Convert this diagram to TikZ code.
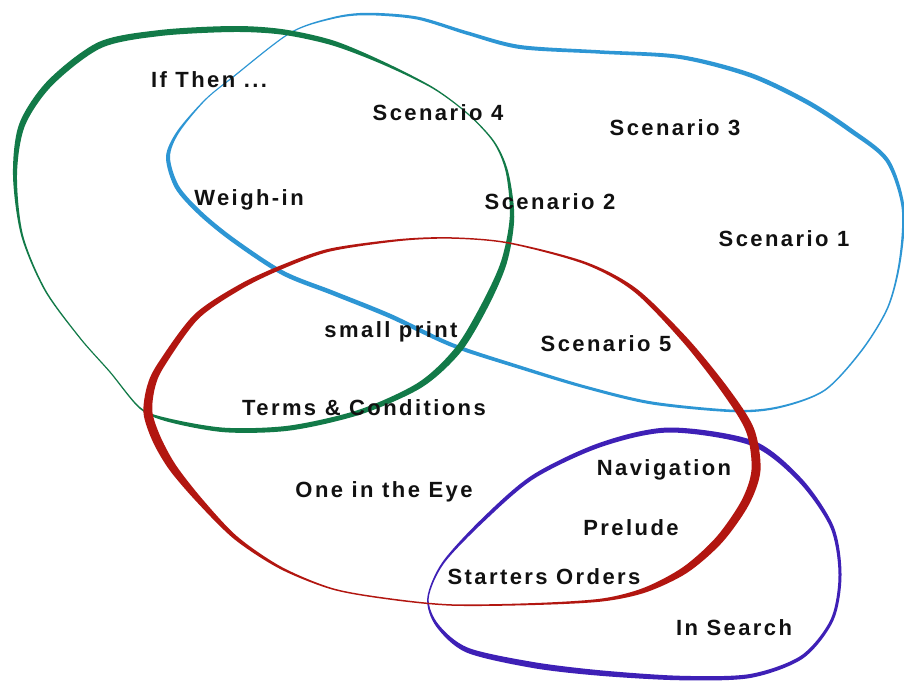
\documentclass[tikz,border=0pt]{standalone}
\usepackage{fontspec}
\newfontfamily\lblfont[LetterSpace=11]{Liberation Sans}
\usetikzlibrary{calc}
\definecolor{grn}{RGB}{18,122,72}
\definecolor{sky}{RGB}{45,150,212}
\definecolor{crimson}{RGB}{178,22,16}
\definecolor{indigo}{RGB}{62,32,182}
\definecolor{ink}{RGB}{17,17,17}
\tikzset{
  lbl/.style={font=\lblfont\bfseries\fontsize{22}{25}\selectfont, text=ink, inner sep=0pt}
}
% closed band of varying width: name, colour, x/y/width list
\newcommand\loopband[3]{%
  \foreach \x/\y/\w [count=\i] in {#3} {\coordinate (#1\i) at (\x,\y); \xdef\nn{\i}}
  \gdef\pa{}\gdef\pb{}
  \foreach \x/\y/\w [count=\i] in {#3} {
    \pgfmathtruncatemacro\ip{mod(\i-2+\nn,\nn)+1}
    \pgfmathtruncatemacro\inx{mod(\i,\nn)+1}
    \coordinate (t) at ($(#1\ip)!\w*0.5pt!90:(#1\inx)$);
    \coordinate (#1a\i) at ($(#1\i)+(t)-(#1\ip)$);
    \coordinate (#1b\i) at ($(#1\i)-(t)+(#1\ip)$);
    \xdef\pa{\pa(#1a\i)}\xdef\pb{\pb(#1b\i)}
  }
  \edef\tmp{\noexpand\fill[#2, even odd rule] plot[smooth cycle] coordinates {\pa}
    plot[smooth cycle] coordinates {\pb};}\tmp
}
\begin{document}
\begin{tikzpicture}[x=1pt, y=-1pt]
  \useasboundingbox[fill=white] (0,0) rectangle (904,681);
  % Blue set
  \loopband{b}{sky}{168/157/4, 178/132/2.5, 205/100/1.2, 233/77/1.2, 290/33/1.2,
    333/18/1.8, 367/14/2.5, 417/18/3, 467/33/3.5, 520/47/4, 600/52/3.5,
    680/57/4, 750/75/4.5, 807/102/4.5, 850/130/4.5, 887/160/4, 903/207/3,
    900/260/2, 888/307/1.5, 862/350/1.5, 825/390/1.5, 780/407/2, 735/411/2.5,
    652/403/3, 585/387/3, 519/367/3.5, 452/345/4, 390/316/4.5, 333/293/4.5,
    283/273/4.5, 233/240/4.5, 200/213/4.5, 177/187/4.5}
  % Green set
  \loopband{g}{grn}{233/29/6, 283/32/5.5, 333/43/5, 383/63/3, 433/88/1.5,
    468/114/1.2, 494/142/1.5, 507/172/2.5, 512/217/4.5, 504/262/6, 485/305/7,
    458/350/7, 420/385/6, 360/412/5, 290/428/5, 225/430/4.5, 168/420/3.5,
    140/408/1.5, 110/372/1.2, 80/338/1.2, 45/290/1.5, 22/235/2, 15/175/4,
    22/125/6, 50/83/6.5, 100/45/6.5, 160/33/6}
  % Purple set
  \loopband{p}{indigo}{428/598/1.5, 443/563/2, 483/520/3.5, 533/477/4, 600/445/4.5,
    669/430/5, 752/443/5.5, 800/480/4.5, 832/527/3.5, 840/575/3, 832/620/3,
    802/657/3.5, 750/676/4, 680/678/4.5, 600/673/5.5, 533/665/6, 467/650/5,
    437/625/3}
  % Red set
  \loopband{r}{crimson}{148/413/9, 151/387/8, 161/365/7, 196/317/6, 240/287/5,
    282/267/4, 330/250/3, 400/240/2, 452/238/1.5, 509/243/1.5, 585/263/2.5,
    635/290/4, 685/340/6, 725/390/7.5, 750/430/8.5, 756/470/9, 745/503/8.5,
    719/540/8, 685/570/7, 645/590/5, 602/600/3, 535/604/2, 452/605/1.5,
    390/599/1.5, 333/589/1.5, 281/568/2.5, 236/538/4, 200/501/6, 173/468/8,
    157/440/9}
  % Labels
  \node[lbl] (ifthen) at (209,80) {If Then ...};
  \node[lbl] (scfour) at (438,113) {Scenario 4};
  \node[lbl] (scthree) at (675,128) {Scenario 3};
  \node[lbl] (weighin) at (249,200) {Weigh-in};
  \node[lbl] (sctwo) at (550,202) {Scenario 2};
  \node[lbl] (scone) at (784,239) {Scenario 1};
  \node[lbl] (smallprint) at (391,332) {small print};
  \node[lbl] (scfive) at (606,344) {Scenario 5};
  \node[lbl] (terms) at (364,408) {Terms \& Conditions};
  \node[lbl] (eye) at (384,492) {One in the Eye};
  \node[lbl] (nav) at (664,470) {Navigation};
  \node[lbl] (prelude) at (631,528) {Prelude};
  \node[lbl] (starters) at (544,577) {Starters Orders};
  \node[lbl] (insearch) at (734,628) {In Search};
\end{tikzpicture}
\end{document}
